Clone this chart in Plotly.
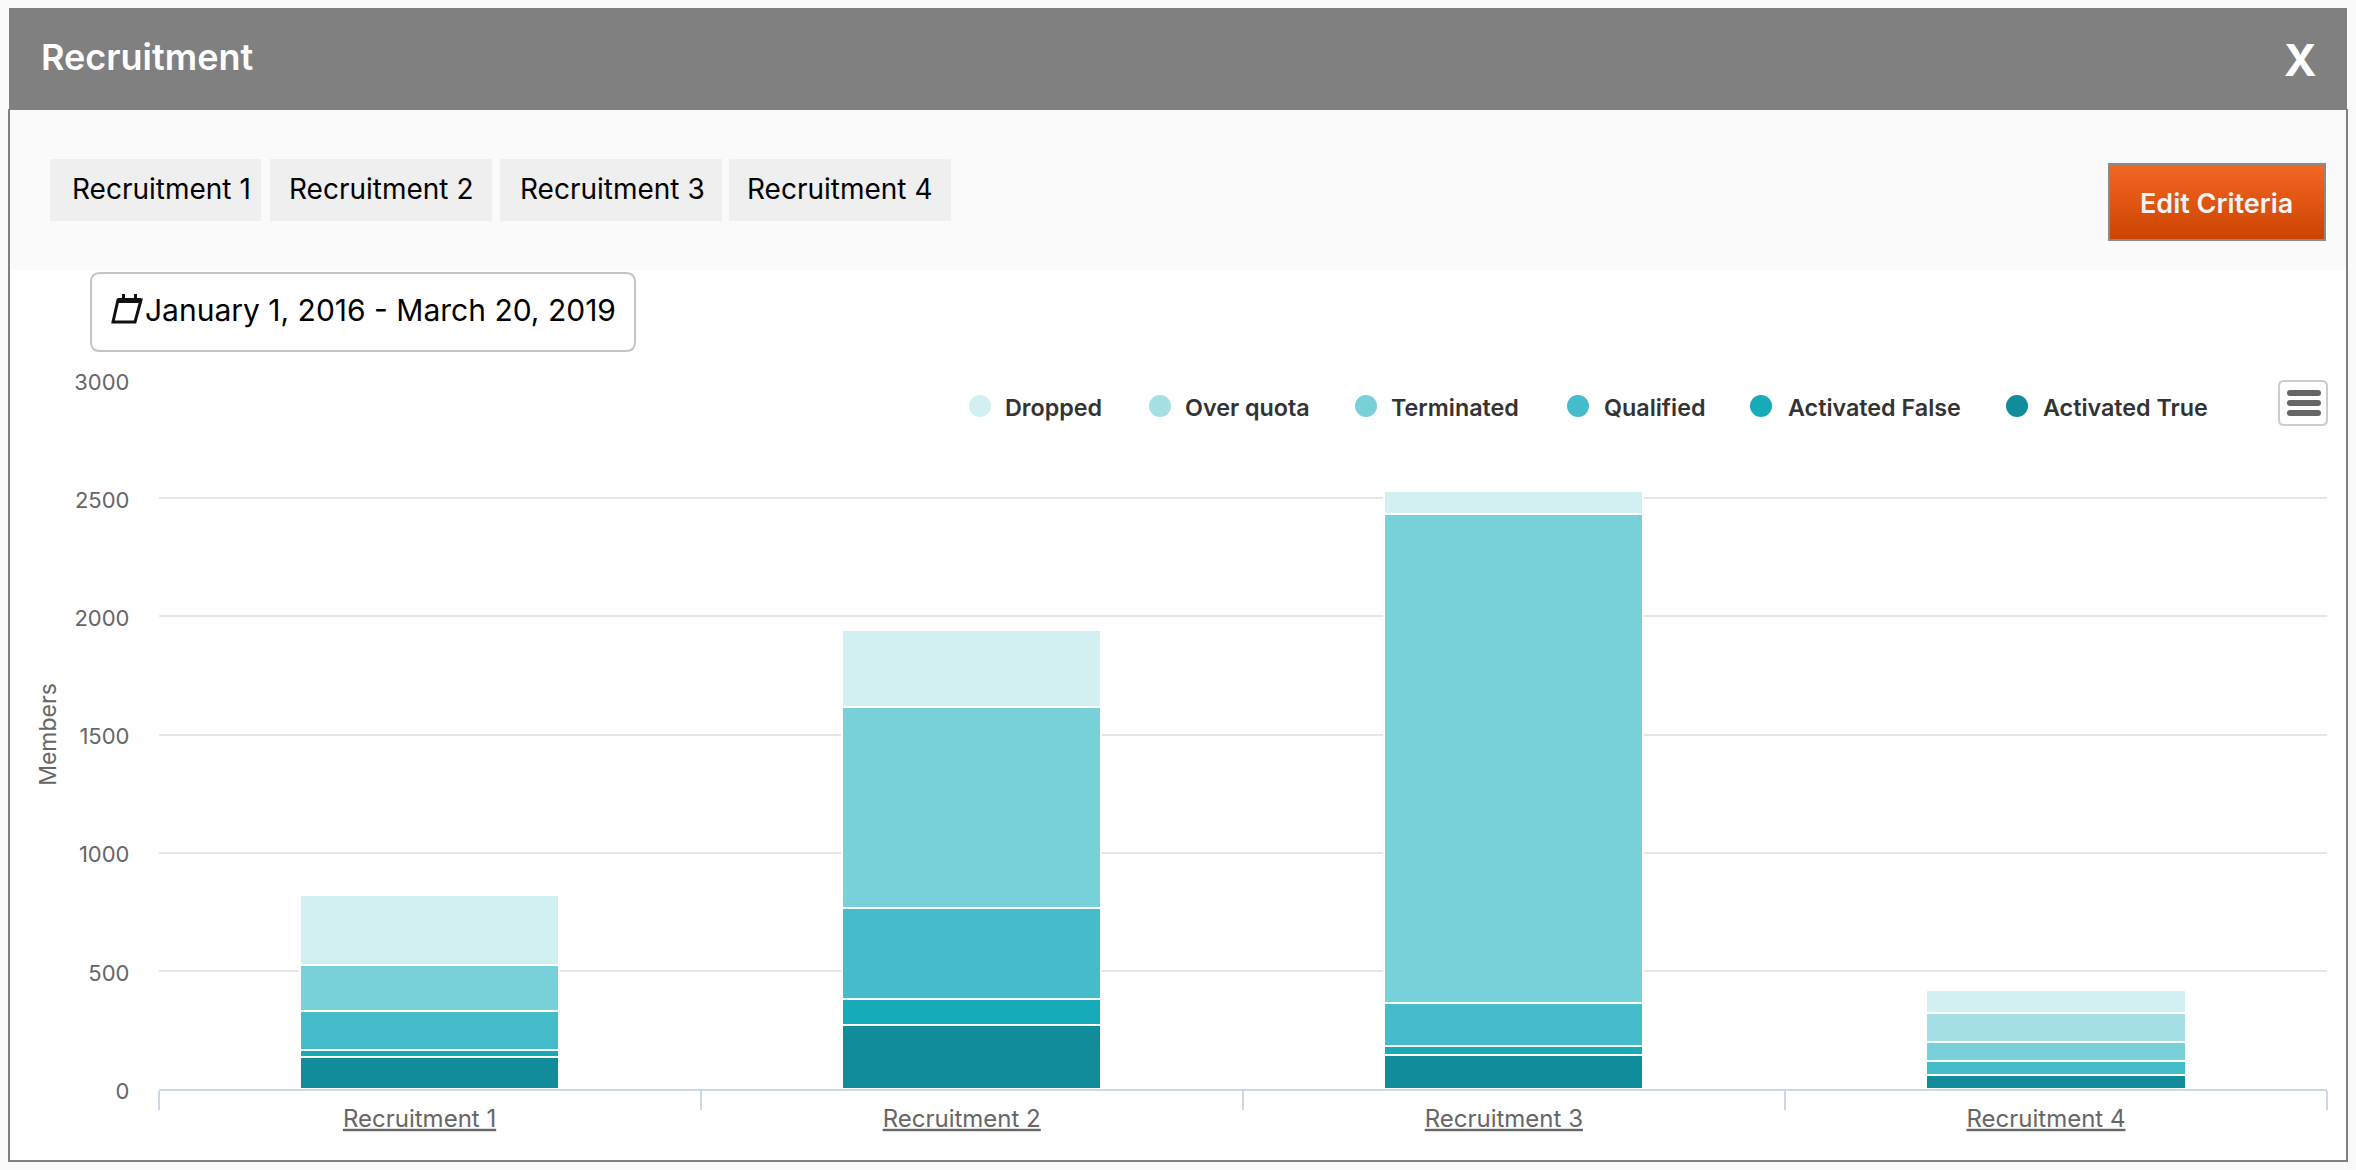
import plotly.graph_objects as go

# Recruitment funnel counts per campaign, stacked from the bottom up
categories = ["Recruitment 1", "Recruitment 2", "Recruitment 3", "Recruitment 4"]
activated_true = [134, 269, 142, 58]
activated_false = [33, 110, 42, 0]
qualified = [161, 389, 178, 59]
terminated = [196, 848, 2073, 84]
over_quota = [0, 0, 0, 119]
dropped = [298, 328, 94, 101]
y_ticks = [0, 500, 1000, 1500, 2000, 2500, 3000]

series = [
    ("Activated True", activated_true, "#118c9a"),
    ("Activated False", activated_false, "#17aab9"),
    ("Qualified", qualified, "#45bcc9"),
    ("Terminated", terminated, "#78d0d8"),
    ("Over quota", over_quota, "#a4e0e6"),
    ("Dropped", dropped, "#d2f0f2"),
]
legend_items = [
    ("Dropped", "#d2f0f2", 980, 1003),
    ("Over quota", "#a4e0e6", 1160, 1183),
    ("Terminated", "#78d0d8", 1366, 1389),
    ("Qualified", "#45bcc9", 1578, 1602),
    ("Activated False", "#17aab9", 1761, 1786),
    ("Activated True", "#118c9a", 2017, 2041),
]
tabs = [(50, 261), (270, 492), (500, 722), (729, 951)]

W, H = 2356, 1170
FONT = "Inter"


def px(x):
    return x / W


def py(y):
    return 1 - y / H


def rect(x0, y0, x1, y1, fill, line=None, lw=0, layer="below"):
    return dict(type="rect", xref="paper", yref="paper", x0=px(x0), x1=px(x1), y0=py(y0), y1=py(y1),
                fillcolor=fill, line=dict(color=line or fill, width=lw), layer=layer)


def round_rect(x0, y0, x1, y1, r, fill, line=None, lw=0, layer="below"):
    # Rounded rectangle built as an SVG path in paper coordinates
    def p(x, y):
        return f"{px(x):.6f},{py(y):.6f}"
    path = (f"M{p(x0 + r, y0)} L{p(x1 - r, y0)} Q{p(x1, y0)} {p(x1, y0 + r)} "
            f"L{p(x1, y1 - r)} Q{p(x1, y1)} {p(x1 - r, y1)} "
            f"L{p(x0 + r, y1)} Q{p(x0, y1)} {p(x0, y1 - r)} "
            f"L{p(x0, y0 + r)} Q{p(x0, y0)} {p(x0 + r, y0)} Z")
    return dict(type="path", xref="paper", yref="paper", path=path, fillcolor=fill,
                line=dict(color=line or fill, width=lw), layer=layer)


def text(s, x, y, size, color, weight=400, anchor="center"):
    return dict(text=s, x=px(x), y=py(y), xref="paper", yref="paper", xanchor=anchor, yanchor="middle",
                showarrow=False, align="left",
                font=dict(family=FONT, size=size, color=color, weight=weight))


shapes = [
    rect(9, 110, 2347, 1161, "#ffffff", "#808080", 2),
    rect(10, 110, 2346, 270, "#fafafa"),
    rect(9, 8, 2347, 110, "#808080"),
]
for x0, x1 in tabs:
    shapes.append(rect(x0, 159, x1, 221, "#efefef"))

# Edit button: vertical orange gradient, each band painted over the one above it
BTN_TOP, BTN_BOTTOM = 165, 239
for i in range(BTN_BOTTOM - BTN_TOP):
    t = i / (BTN_BOTTOM - BTN_TOP - 1)
    col = f"rgb({round(243 - 39 * t)},{round(102 - 34 * t)},{round(35 - 35 * t)})"
    shapes.append(rect(2109, BTN_TOP + i, 2325, BTN_BOTTOM, col))
shapes.append(rect(2109, 164, 2325, 240, "rgba(0,0,0,0)", "#8a8a8a", 2))

# Date range box with a small calendar glyph
shapes.append(round_rect(91, 273, 635, 351, 9, "#ffffff", "#c4c4c4", 2))
cal = [(118, 300), (141, 300), (135, 322), (113, 322)]
shapes.append(dict(type="path", xref="paper", yref="paper",
                   path="M" + " L".join(f"{px(a):.6f},{py(b):.6f}" for a, b in cal) + " Z",
                   fillcolor="rgba(0,0,0,0)", line=dict(color="#111111", width=3)))
shapes.append(rect(118, 298, 141, 303, "#111111", layer="above"))
shapes.append(rect(122, 294, 125, 299, "#111111", layer="above"))
shapes.append(rect(134, 294, 137, 299, "#111111", layer="above"))

# Context menu button
shapes.append(round_rect(2279, 381, 2327, 425, 5, "#ffffff", "#cccccc", 2, layer="above"))
for yc in (393, 403, 413):
    shapes.append(round_rect(2287, yc - 3, 2321, yc + 3, 3, "#666666", layer="above"))

annotations = [
    text("Recruitment", 38.5, 57, 36, "#ffffff", 600, "left"),
    text("X", 2300, 60, 44, "#ffffff", 700),
    text("Edit Criteria", 2216, 203, 27, "#f4f4f4", 600),
    text("January 1, 2016 - March 20, 2019", 143, 310, 30, "#000000", 400, "left"),
]
tab_centres = [161.5, 381, 612, 840]
for name, xc in zip(categories, tab_centres):
    annotations.append(text(name, xc, 189, 28, "#000000"))

for name, color, cx, tx in legend_items:
    shapes.append(dict(type="circle", xref="paper", yref="paper",
                       x0=px(cx - 11), x1=px(cx + 11), y0=py(406 + 11), y1=py(406 - 11),
                       fillcolor=color, line=dict(width=0), layer="above"))
    annotations.append(text(name, tx, 407, 23.3, "#333333", 600, "left"))

fig = go.Figure()
for name, values, color in series:
    fig.add_trace(go.Bar(x=categories, y=values, name=name, showlegend=False,
                         marker=dict(color=color, line=dict(color="#ffffff", width=2))))

fig.update_layout(
    width=W, height=H,
    margin=dict(l=0, r=0, t=0, b=0),
    barmode="stack", bargap=0.522,
    paper_bgcolor="#fafafa", plot_bgcolor="rgba(0,0,0,0)",
    font=dict(family=FONT, color="#666666"),
    shapes=shapes, annotations=annotations,
    xaxis=dict(
        domain=[px(158.5), px(2327)], tickson="boundaries", ticks="outside", ticklen=19,
        tickcolor="#ccd6eb", tickwidth=1.5, showline=True, linecolor="#ccd6eb", linewidth=2,
        showgrid=False, ticklabelshift=-10, ticklabelstandoff=7, automargin=False,
        tickfont=dict(family=FONT, size=24, color="#666666", lineposition="under"),
    ),
    yaxis=dict(
        domain=[py(1089), py(380)], range=[0, 3000], tickvals=y_ticks, ticks="",
        showline=False, zeroline=False, gridcolor="#e6e6e6", gridwidth=2, automargin=False,
        tickfont=dict(family=FONT, size=22, color="#666666"), ticklabelstandoff=28, ticklabelshift=2,
        title=dict(text="Members", font=dict(family=FONT, size=23, color="#666666"), standoff=11),
    ),
)

fig.write_html("out.html", config=dict(displayModeBar=False))
